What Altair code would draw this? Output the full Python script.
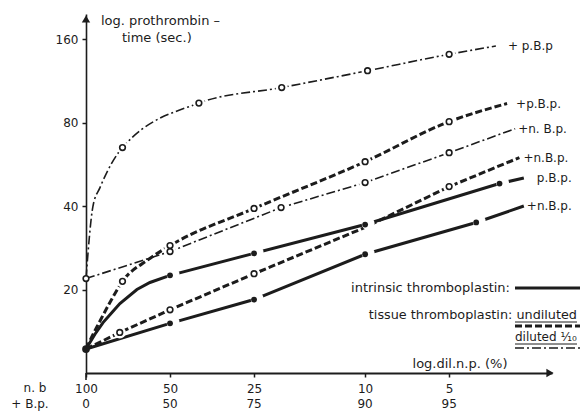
import altair as alt
import pandas as pd

FONT = "DejaVu Sans"
INK = "#1c1c1c"

# ---------------- data (x: dilution of normal plasma %, y: prothrombin time sec) -------------
# diluted tissue thromboplastin (dash-dot)
dd_pbp_x = [100, 94.4, 89.1, 74, 39.4, 19.9, 9.8, 5, 3.4]
dd_pbp_y = [21.9, 40, 46.6, 65, 94, 107, 123, 141, 151]
dd_pbp_m = ["", "", "", "o", "o", "o", "o", "o", ""]

dd_nbp_x = [100, 50, 20, 10, 5, 2.9]
dd_nbp_y = [21.9, 27.4, 39.5, 48.6, 62.3, 76]
dd_nbp_m = ["o", "o", "o", "o", "o", ""]

# undiluted tissue thromboplastin (dashed)
ud_pbp_x = [100, 95, 90, 82, 74, 60, 50, 25, 10, 5, 3.1]
ud_pbp_y = [12.2, 13.6, 15.1, 18.0, 21.4, 25.6, 28.8, 39.2, 57.8, 80.6, 93.7]
ud_pbp_m = ["", "", "", "", "o", "", "o", "o", "o", "o", ""]

ud_nbp_x = [100, 75.7, 50, 25, 10, 5, 2.8]
ud_nbp_y = [12.2, 14.0, 16.9, 22.8, 33.5, 47, 59.8]
ud_nbp_m = ["", "o", "o", "o", "", "o", ""]

# intrinsic thromboplastin (solid)
in_pbp_x = [100, 92.9, 86.9, 80, 75.6, 65.7, 59, 50, 25, 10, 3.3, 2.7]
in_pbp_y = [12.2, 13.8, 15.2, 16.7, 17.8, 20.0, 21.2, 22.5, 27, 34.3, 48.2, 50.5]
in_pbp_m = ["*", "", "", "", "", "", "", "*", "*", "*", "*", ""]

in_nbp_x = [100, 50, 25, 10, 4, 2.7]
in_nbp_y = [12.2, 15.1, 18.4, 26.8, 34.9, 40]
in_nbp_m = ["*", "*", "*", "*", "*", ""]

end_labels = ["+ p.B.p", "+n. B.p.", "+p.B.p.", "+n.B.p.", "p.B.p.", "+n.B.p."]
label_dx = [12, 3, 9, 4, 13, 3]

x_ticks = [100, 50, 25, 10, 5]
x_ticks_bp = ["0", "50", "75", "90", "95"]
y_ticks = [20, 40, 80, 160]

series = [
    ("dd_pbp", "dashdot", dd_pbp_x, dd_pbp_y, dd_pbp_m, "monotone"),
    ("dd_nbp", "dashdot", dd_nbp_x, dd_nbp_y, dd_nbp_m, "linear"),
    ("ud_pbp", "dashed", ud_pbp_x, ud_pbp_y, ud_pbp_m, "monotone"),
    ("ud_nbp", "dashed", ud_nbp_x, ud_nbp_y, ud_nbp_m, "linear"),
    ("in_pbp", "solid", in_pbp_x, in_pbp_y, in_pbp_m, "linear"),
    ("in_nbp", "solid", in_nbp_x, in_nbp_y, in_nbp_m, "linear"),
]

styles = {
    "dashdot": dict(strokeWidth=1.6, strokeDash=[9, 3, 2, 3]),
    "dashed": dict(strokeWidth=3, strokeDash=[7, 3]),
    "solid": dict(strokeWidth=3),
}

xscale = alt.Scale(type="log", domain=[2.14, 100], reverse=True, nice=False, zero=False)
yscale = alt.Scale(type="log", domain=[10, 197], nice=False, zero=False)

X = lambda: alt.X("p:Q", scale=xscale, axis=alt.Axis(
    values=x_ticks, format="d", title=None, grid=False, tickSize=4, tickWidth=1.5,
    domainWidth=2, domainColor=INK, tickColor=INK, labelColor=INK, labelFont=FONT,
    labelFontSize=12, labelPadding=6, labelFlush=False, labelOverlap=False))
Y = lambda: alt.Y("t:Q", scale=yscale, axis=alt.Axis(
    values=y_ticks, format="d", title=None, grid=False, tickSize=4, tickWidth=1.5,
    domainWidth=1.6, domainColor=INK, tickColor=INK, labelColor=INK, labelFont=FONT,
    labelFontSize=12, labelPadding=4))

layers = []
pts = []
ends = []
for i, (name, style, xs, ys, ms, interp) in enumerate(series):
    df = pd.DataFrame({"p": xs, "t": ys, "m": ms, "order": range(len(xs))})
    layers.append(alt.Chart(df).mark_line(color=INK, interpolate=interp, **styles[style])
                  .encode(x=X(), y=Y(), order="order:O"))
    pts.append(df[df["m"] != ""])
    ends.append({"p": xs[-1], "t": ys[-1], "lab": end_labels[i], "dx": label_dx[i]})

pts_df = pd.concat(pts, ignore_index=True)
open_df = pts_df[pts_df["m"] == "o"]
dot_df = pts_df[(pts_df["m"] == "*") & (pts_df["p"] < 99)]

gap_open = alt.Chart(open_df[open_df["p"] < 99]).mark_point(
    shape="circle", filled=True, fill="white", strokeOpacity=0, size=150, opacity=1
).encode(x=X(), y=Y())
gap_dot = alt.Chart(dot_df).mark_point(
    shape="circle", filled=True, fill="white", strokeOpacity=0, size=170, opacity=1,
    xOffset=3, yOffset=-1
).encode(x=X(), y=Y())
opens = alt.Chart(open_df).mark_point(shape="circle", filled=True, fill="white", stroke=INK, strokeWidth=1.6, size=32, opacity=1).encode(x=X(), y=Y())
dots = alt.Chart(dot_df).mark_point(shape="circle", filled=True, fill=INK, strokeOpacity=0, size=34, opacity=1).encode(x=X(), y=Y())
origin = alt.Chart(pd.DataFrame({"p": [100], "t": [12.2]})).mark_point(shape="circle", filled=True, fill=INK, strokeOpacity=0, size=60, opacity=1).encode(x=X(), y=Y())

end_charts = []
for e in ends:
    end_charts.append(alt.Chart(pd.DataFrame([e])).mark_text(
        align="left", baseline="middle", dx=e["dx"], font=FONT, fontSize=12, color=INK
    ).encode(x=X(), y=Y(), text="lab:N"))

# second row of x tick labels
bp_df = pd.DataFrame({"p": x_ticks, "lab": x_ticks_bp})
bp_row = alt.Chart(bp_df).mark_text(baseline="middle", font=FONT, fontSize=12, color=INK).encode(
    x=X(), y=alt.value(390), text="lab:N")

def txt(s, x, y, align="left", size=13):
    return alt.Chart(pd.DataFrame({"s": [s]})).mark_text(
        align=align, baseline="middle", font=FONT, fontSize=size, color=INK
    ).encode(x=alt.value(x), y=alt.value(y), text="s:N")

def rule(x1, x2, y, width, dash=None):
    kw = dict(color=INK, strokeWidth=width)
    if dash:
        kw["strokeDash"] = dash
    return alt.Chart(pd.DataFrame({"a": [0]})).mark_rule(**kw).encode(
        x=alt.value(x1), x2=alt.value(x2), y=alt.value(y))

annot = [
    txt("log. prothrombin –", 15, 7),
    txt("time (sec.)", 36, 24),
    txt("log.dil.n.p. (%)", 374, 350, align="center"),
    txt("n. b", -51, 374, size=12, align="center"),
    txt("+ B.p.", -56, 390, size=12, align="center"),
    txt("intrinsic thromboplastin:", 424, 274, align="right"),
    rule(429, 500, 274, 3),
    txt("tissue thromboplastin: undiluted", 491, 301, align="right", size=12.8),
    rule(429, 491, 308, 1),
    rule(429, 500, 312, 3, [7, 3]),
    txt("diluted ¹⁄₁₀", 429, 323, size=12),
    rule(429, 491, 330, 1),
    rule(429, 500, 334, 1.6, [9, 3, 2, 3]),
    rule(0, 0, 359, 1.6).encode(y2=alt.value(366)),
]

arrow_y = alt.Chart(pd.DataFrame({"a": [0]})).mark_point(shape="triangle-up", filled=True, color=INK, size=70, opacity=1).encode(
    x=alt.value(0), y=alt.value(5))
arrow_x = alt.Chart(pd.DataFrame({"a": [0]})).mark_point(shape="triangle-right", filled=True, color=INK, size=70, opacity=1).encode(
    x=alt.value(464), y=alt.value(359))

chart = alt.layer(*layers, gap_open, gap_dot, opens, dots, origin, *end_charts, bp_row, *annot, arrow_y, arrow_x).properties(
    width=466, height=359,
    padding={"left": 78, "top": 6, "right": 28, "bottom": 38},
    autosize=alt.AutoSizeParams(type="none"),
).configure_view(stroke=None)

chart.save("out.html", embed_options={"renderer": "svg", "actions": False})
